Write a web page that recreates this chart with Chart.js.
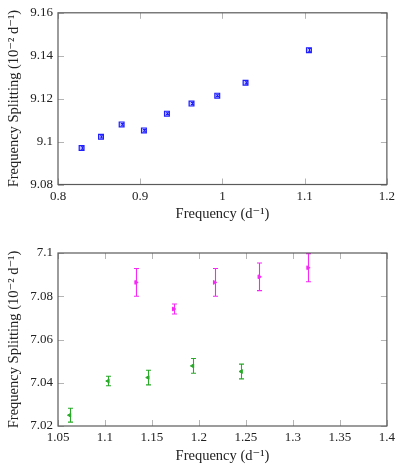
<!DOCTYPE html>
<html>
<head>
<meta charset="utf-8">
<script src="https://cdn.jsdelivr.net/npm/chart.js@4.4.0/dist/chart.umd.min.js"></script>
<style>
  body { margin: 0; background: #fff; }
  #wrap { position: relative; width: 399px; height: 469px; }
  canvas { position: absolute; left: 0; }
</style>
</head>
<body>
<div id="wrap">
  <canvas id="top" width="399" height="235" style="top:0"></canvas>
  <canvas id="bot" width="399" height="234" style="top:235px"></canvas>
</div>
<script>
// top panel
const topFreq  = [0.8287, 0.8523, 0.8774, 0.9045, 0.9325, 0.9624, 0.9937, 1.0281, 1.1052];
const topSplit = [9.0970, 9.1022, 9.1080, 9.1052, 9.1130, 9.1177, 9.1214, 9.1274, 9.1426];
const topErr   = [0.0006, 0.0005, 0.0004, 0.0004, 0.0004, 0.0005, 0.0004, 0.0005, 0.0008];
const topXTicks = [0.8, 0.9, 1, 1.1, 1.2];
const topYTicks = [9.08, 9.1, 9.12, 9.14, 9.16];

// bottom panel
const magFreq  = [1.1330, 1.1730, 1.2166, 1.2641, 1.3160];
const magSplit = [7.0864, 7.0741, 7.0864, 7.0890, 7.0932];
const magErr   = [0.0064, 0.0023, 0.0064, 0.0064, 0.0065];
const grnFreq  = [1.0624, 1.1032, 1.1457, 1.1932, 1.2450];
const grnSplit = [7.0250, 7.0408, 7.0424, 7.0478, 7.0452];
const grnErr   = [0.0032, 0.0022, 0.0034, 0.0034, 0.0034];
const botXTicks = [1.05, 1.1, 1.15, 1.2, 1.25, 1.3, 1.35, 1.4];
const botYTicks = [7.02, 7.04, 7.06, 7.08, 7.1];

const FONT = "'Liberation Serif', 'DejaVu Serif', serif";
const xTitle = 'Frequency (d\u207B\u00B9)';
const yTitle = 'Frequency Splitting (10\u207B\u00B2 d\u207B\u00B9)';

function pts(xs, ys) {
    let out = [];
    for (let i = 0; i < xs.length; i++) out.push({x: xs[i], y: ys[i]});
    return out;
}

// error bars, drawn through the scales
const errorBars = {
    id: 'errorBars',
    afterDatasetsDraw(chart) {
        const ctx = chart.ctx;
        const xs = chart.scales.x, ys = chart.scales.y;
        chart.data.datasets.forEach(function(ds) {
            if (!ds.errs) return;
            ctx.save();
            ctx.strokeStyle = ds.barColor;
            ctx.lineWidth = 1.1;
            ds.data.forEach(function(p, i) {
                let px = Math.round(xs.getPixelForValue(p.x)) + 0.5;
                let y1 = ys.getPixelForValue(p.y + ds.errs[i]);
                let y2 = ys.getPixelForValue(p.y - ds.errs[i]);
                let cap = ds.capW;
                ctx.beginPath();
                ctx.moveTo(px, y1); ctx.lineTo(px, y2);
                ctx.moveTo(px - cap, y1); ctx.lineTo(px + cap, y1);
                ctx.moveTo(px - cap, y2); ctx.lineTo(px + cap, y2);
                ctx.stroke();
            });
            ctx.restore();
        });
    }
};

// frame with inward tick marks on all four sides
const frame = {
    id: 'frame',
    afterDraw(chart) {
        const ctx = chart.ctx, a = chart.chartArea;
        const xs = chart.scales.x, ys = chart.scales.y;
        ctx.save();
        ctx.strokeStyle = '#b4b4b4';
        ctx.lineWidth = 1;
        ctx.beginPath();
        xs.ticks.forEach(function(t) {
            let px = Math.round(xs.getPixelForValue(t.value)) + 0.5;
            ctx.moveTo(px, a.bottom); ctx.lineTo(px, a.bottom - 6);
            ctx.moveTo(px, a.top); ctx.lineTo(px, a.top + 6);
        });
        ys.ticks.forEach(function(t) {
            let py = Math.round(ys.getPixelForValue(t.value)) + 0.5;
            ctx.moveTo(a.left, py); ctx.lineTo(a.left + 6, py);
            ctx.moveTo(a.right, py); ctx.lineTo(a.right - 6, py);
        });
        ctx.stroke();
        ctx.strokeStyle = '#5a5a5a';
        ctx.lineWidth = 1.2;
        ctx.strokeRect(a.left, a.top, a.right - a.left, a.bottom - a.top);
        ctx.restore();
    }
};

function fmt(v) { return String(parseFloat(v.toFixed(2))); }

function makeChart(id, datasets, xMin, xMax, xTicks, yMin, yMax, yTicks, padTop, padBottom) {
    return new Chart(document.getElementById(id), {
        type: 'scatter',
        data: { datasets: datasets },
        options: {
            responsive: false,
            animation: false,
            devicePixelRatio: 1,
            layout: { padding: { left: 0, right: 12, top: padTop, bottom: padBottom } },
            plugins: { legend: { display: false }, tooltip: { enabled: false } },
            scales: {
                x: {
                    type: 'linear', min: xMin, max: xMax,
                    grid: { display: false, drawTicks: false },
                    border: { display: false },
                    afterBuildTicks: function(s) { s.ticks = xTicks.map(v => ({value: v})); },
                    afterFit: function(s) { s.height = 38.5; },
                    ticks: { padding: 4, color: '#222', font: { family: FONT, size: 13 }, callback: fmt },
                    title: { display: true, text: xTitle, color: '#222', padding: 0, font: { family: FONT, size: 14.5 } }
                },
                y: {
                    type: 'linear', min: yMin, max: yMax,
                    grid: { display: false, drawTicks: false },
                    border: { display: false },
                    afterBuildTicks: function(s) { s.ticks = yTicks.map(v => ({value: v})); },
                    afterFit: function(s) { s.width = 58; },
                    ticks: { padding: 5, color: '#222', font: { family: FONT, size: 13 }, callback: fmt },
                    title: { display: true, text: yTitle, color: '#222', padding: { top: 5, bottom: 0 }, font: { family: FONT, size: 14.5 } }
                }
            }
        },
        plugins: [errorBars, frame]
    });
}

makeChart('top', [{
    data: pts(topFreq, topSplit),
    errs: topErr, capW: 1.5, barColor: 'rgb(30,30,255)',
    borderColor: 'rgb(30,30,255)',
    backgroundColor: 'rgba(80,80,255,0.35)',
    pointStyle: 'rect', pointRadius: 3.4, borderWidth: 1.2
}], 0.8, 1.2, topXTicks, 9.08, 9.16, topYTicks, 12, 12);

makeChart('bot', [{
    data: pts(magFreq, magSplit),
    errs: magErr, capW: 2.5, barColor: 'rgb(245,40,245)',
    borderColor: 'rgb(245,40,245)',
    backgroundColor: 'rgb(245,40,245)',
    pointStyle: 'triangle', rotation: 90, pointRadius: 2.2, borderWidth: 1
}, {
    data: pts(grnFreq, grnSplit),
    errs: grnErr, capW: 2.5, barColor: 'rgb(40,170,40)',
    borderColor: 'rgb(40,170,40)',
    backgroundColor: 'rgb(40,170,40)',
    pointStyle: 'triangle', rotation: -90, pointRadius: 2.2, borderWidth: 1
}], 1.05, 1.4, botXTicks, 7.02, 7.1, botYTicks, 18, 4.5);
</script>
</body>
</html>
